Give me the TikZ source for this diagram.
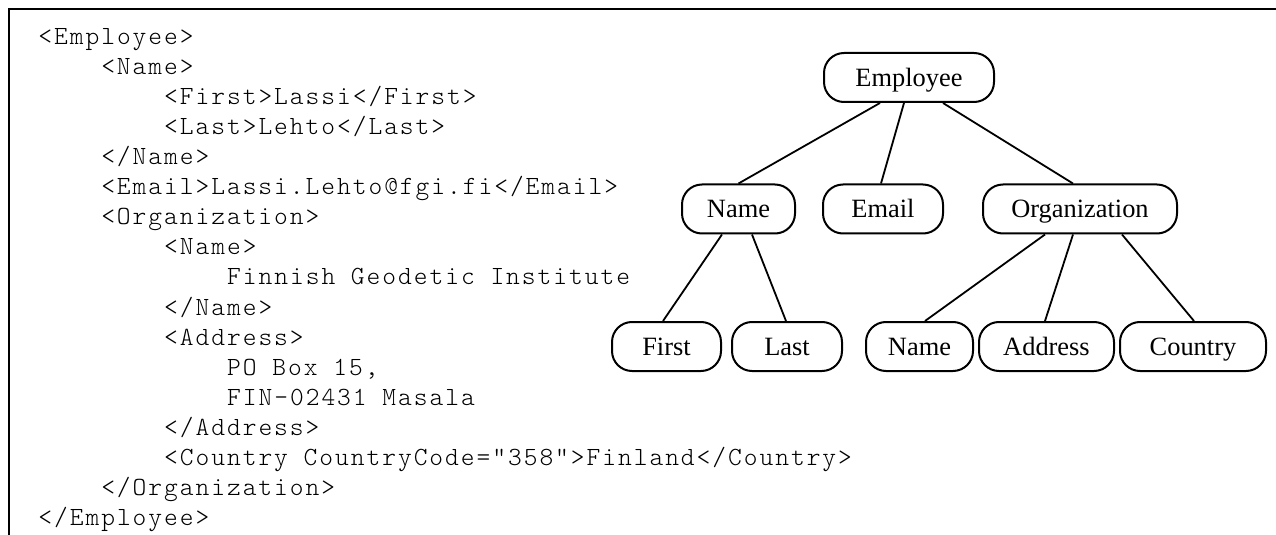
\documentclass[tikz,border=0pt]{standalone}
\usepackage{fontspec}
\setmainfont{Liberation Serif}
\newfontfamily\codefam{lmmonolt10-regular.otf}[LetterSpace=7.5]
\newcommand\codefont{\codefam\fontsize{13.1pt}{15pt}\selectfont}
\newcommand\treefont{\rmfamily\fontsize{13.2pt}{15pt}\selectfont}
\newcommand\csp{\hspace*{7.865pt}}
\begin{document}
\begin{tikzpicture}[x=0.5pt,y=-0.5pt,
  code/.style={anchor=base west,inner sep=0pt,font=\codefont,text=black},
  tn/.style={draw,line width=1pt,rounded corners=10pt,minimum height=24.5pt,
    inner sep=0pt,text height=8.7pt,text depth=0pt,font=\treefont},
  edge/.style={line width=0.9pt},
  frame/.style={line width=1.2pt}]
\useasboundingbox (0,0) rectangle (1276,535);
\draw[frame] (1276,9) -- (9,9) -- (9,535);
% code lines
\node[code] (l0)  at (38,45)      {<Employee>};
\node[code] (l1)  at (100.9,75)   {<Name>};
\node[code] (l2)  at (163.8,105)  {<First>Lassi</First>};
\node[code] (l3)  at (163.8,135)  {<Last>Lehto</Last>};
\node[code] (l4)  at (100.9,165)  {</Name>};
\node[code] (l5)  at (100.9,195)  {<Email>Lassi.Lehto@fgi.fi</Email>};
\node[code] (l6)  at (100.9,225)  {<Organization>};
\node[code] (l7)  at (163.8,255)  {<Name>};
\node[code] (l8)  at (226.8,285)  {Finnish\csp Geodetic\csp Institute};
\node[code] (l9)  at (163.8,315)  {</Name>};
\node[code] (l10) at (163.8,345)  {<Address>};
\node[code] (l11) at (226.8,375)  {PO\csp Box\csp 15,};
\node[code] (l12) at (226.8,405)  {FIN-02431\csp Masala};
\node[code] (l13) at (163.8,435)  {</Address>};
\node[code] (l14) at (163.8,465)  {<Country\csp CountryCode="358">Finland</Country>};
\node[code] (l15) at (100.9,495)  {</Organization>};
\node[code] (l16) at (38,525)     {</Employee>};
% tree
\node[tn,minimum width=85pt]   (emp)  at (909,77.5)  {Employee};
\node[tn,minimum width=56.5pt] (nm)   at (738.5,209) {Name};
\node[tn,minimum width=60pt]   (em)   at (883,209)   {Email};
\node[tn,minimum width=97pt]   (org)  at (1080,209)  {Organization};
\node[tn,minimum width=54.5pt] (fst)  at (666.5,346.5) {First};
\node[tn,minimum width=55pt]   (lst)  at (787,346.5) {Last};
\node[tn,minimum width=53.5pt] (nm3)  at (919.5,346.5) {Name};
\node[tn,minimum width=67.5pt] (adr)  at (1046.5,346.5) {Address};
\node[tn,minimum width=73pt]   (cty)  at (1193,346.5) {Country};
\draw[edge] ([xshift=-14.5pt]emp.south) -- (nm.north);
\draw[edge] ([xshift=-2.5pt]emp.south) -- ([xshift=-1pt]em.north);
\draw[edge] ([xshift=17pt]emp.south) -- ([xshift=-3.5pt]org.north);
\draw[edge] ([xshift=-8.25pt]nm.south) -- ([xshift=-1.75pt]fst.north);
\draw[edge] ([xshift=6.75pt]nm.south) -- ([xshift=-0.5pt]lst.north);
\draw[edge] ([xshift=-17.5pt]org.south) -- ([xshift=2.75pt]nm3.north);
\draw[edge] ([xshift=-3.5pt]org.south) -- ([xshift=-0.75pt]adr.north);
\draw[edge] ([xshift=21pt]org.south) -- ([xshift=0.5pt]cty.north);
\end{tikzpicture}
\end{document}
